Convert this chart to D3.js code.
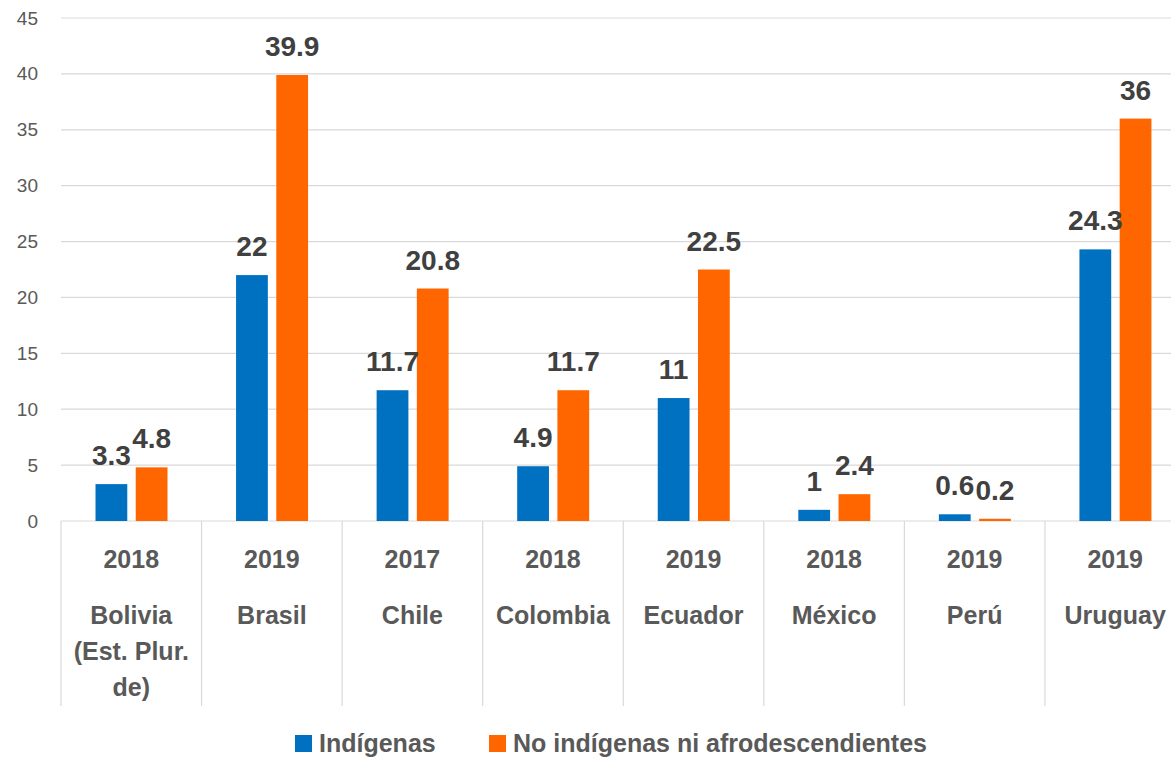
<!DOCTYPE html>
<html><head><meta charset="utf-8">
<script src="https://cdn.jsdelivr.net/npm/d3@7"></script>
<style>body{margin:0;background:#fff;} svg{display:block;}</style>
</head><body>
<svg id="c" width="1171" height="758"></svg>
<script>
const years = ["2018","2019","2017","2018","2019","2018","2019","2019"];
const countries = [["Bolivia","(Est. Plur.","de)"],["Brasil"],["Chile"],["Colombia"],["Ecuador"],["México"],["Perú"],["Uruguay"]];
const seriesNames = ["Indígenas","No indígenas ni afrodescendientes"];
const indigenas = [3.3,22,11.7,4.9,11,1,0.6,24.3];
const noIndigenas = [4.8,39.9,20.8,11.7,22.5,2.4,0.2,36];
const yTicks = [0,5,10,15,20,25,30,35,40,45];
const colors = ["#0070C0","#FF6600"];

(function(){
const svg = d3.select("#c");
const pL = 61, pR = 1185.5, pT = 18, pB = 521;
const idx = d3.range(years.length);
const x = d3.scaleBand().domain(idx).range([pL,pR]).padding(0);
const xs = d3.scaleBand().domain([0,1]).range([34.5,106.5]).paddingInner(0.21);
const y = d3.scaleLinear().domain([0,45]).range([pB,pT]);

// gridlines
svg.append("g").selectAll("line").data(yTicks).join("line")
  .attr("x1",pL).attr("x2",1171).attr("y1",d=>y(d)).attr("y2",d=>y(d))
  .attr("stroke","#d9d9d9").attr("stroke-width",1.2);

// y axis labels
const ya = svg.append("g").attr("transform",`translate(${pL},0)`)
  .call(d3.axisLeft(y).tickValues(yTicks).tickSize(0).tickPadding(23));
ya.select(".domain").remove();
ya.selectAll("text").attr("font-family","Liberation Sans, Arial, sans-serif")
  .attr("font-size",19).attr("fill","#595959");

// category dividers
const bounds = idx.map(i=>x(i)).concat([pR]);
svg.append("g").selectAll("line").data(bounds).join("line")
  .attr("x1",d=>d).attr("x2",d=>d).attr("y1",pB).attr("y2",706)
  .attr("stroke","#d9d9d9").attr("stroke-width",1.2);

const series = [indigenas, noIndigenas];
series.forEach((vals,s)=>{
  svg.append("g").selectAll("rect").data(idx).join("rect")
    .attr("x",i=>x(i)+xs(s)).attr("width",xs.bandwidth())
    .attr("y",i=>y(vals[i])).attr("height",i=>pB-y(vals[i]))
    .attr("fill",colors[s]);
});
series.forEach((vals,s)=>{
  svg.append("g").selectAll("text").data(idx).join("text")
    .attr("x",i=>x(i)+xs(s)+xs.bandwidth()/2).attr("y",i=>y(vals[i])-19)
    .attr("text-anchor","middle")
    .attr("font-family","Liberation Sans, Arial, sans-serif").attr("font-weight","bold")
    .attr("font-size",28).attr("fill","#404040")
    .text(i=>String(vals[i]));
});

// category labels
const cl = svg.append("g").attr("font-family","Liberation Sans, Arial, sans-serif")
  .attr("font-weight","bold").attr("font-size",25).attr("fill","#595959").attr("text-anchor","middle");
cl.selectAll("text.yr").data(idx).join("text").attr("class","yr")
  .attr("x",i=>x(i)+x.bandwidth()/2).attr("y",568).text(i=>years[i]);
idx.forEach(i=>{
  countries[i].forEach((line,k)=>{
    cl.append("text").attr("x",x(i)+x.bandwidth()/2).attr("y",624+k*36).text(line);
  });
});

// legend
const lg = svg.append("g").attr("font-family","Liberation Sans, Arial, sans-serif")
  .attr("font-weight","bold").attr("font-size",25).attr("fill","#595959");
const lx = [295,489];
seriesNames.forEach((n,s)=>{
  lg.append("rect").attr("x",lx[s]).attr("y",735).attr("width",17).attr("height",17).attr("fill",colors[s]);
  lg.append("text").attr("x",lx[s]+24).attr("y",752).text(n);
});
})();
</script>
</body></html>
